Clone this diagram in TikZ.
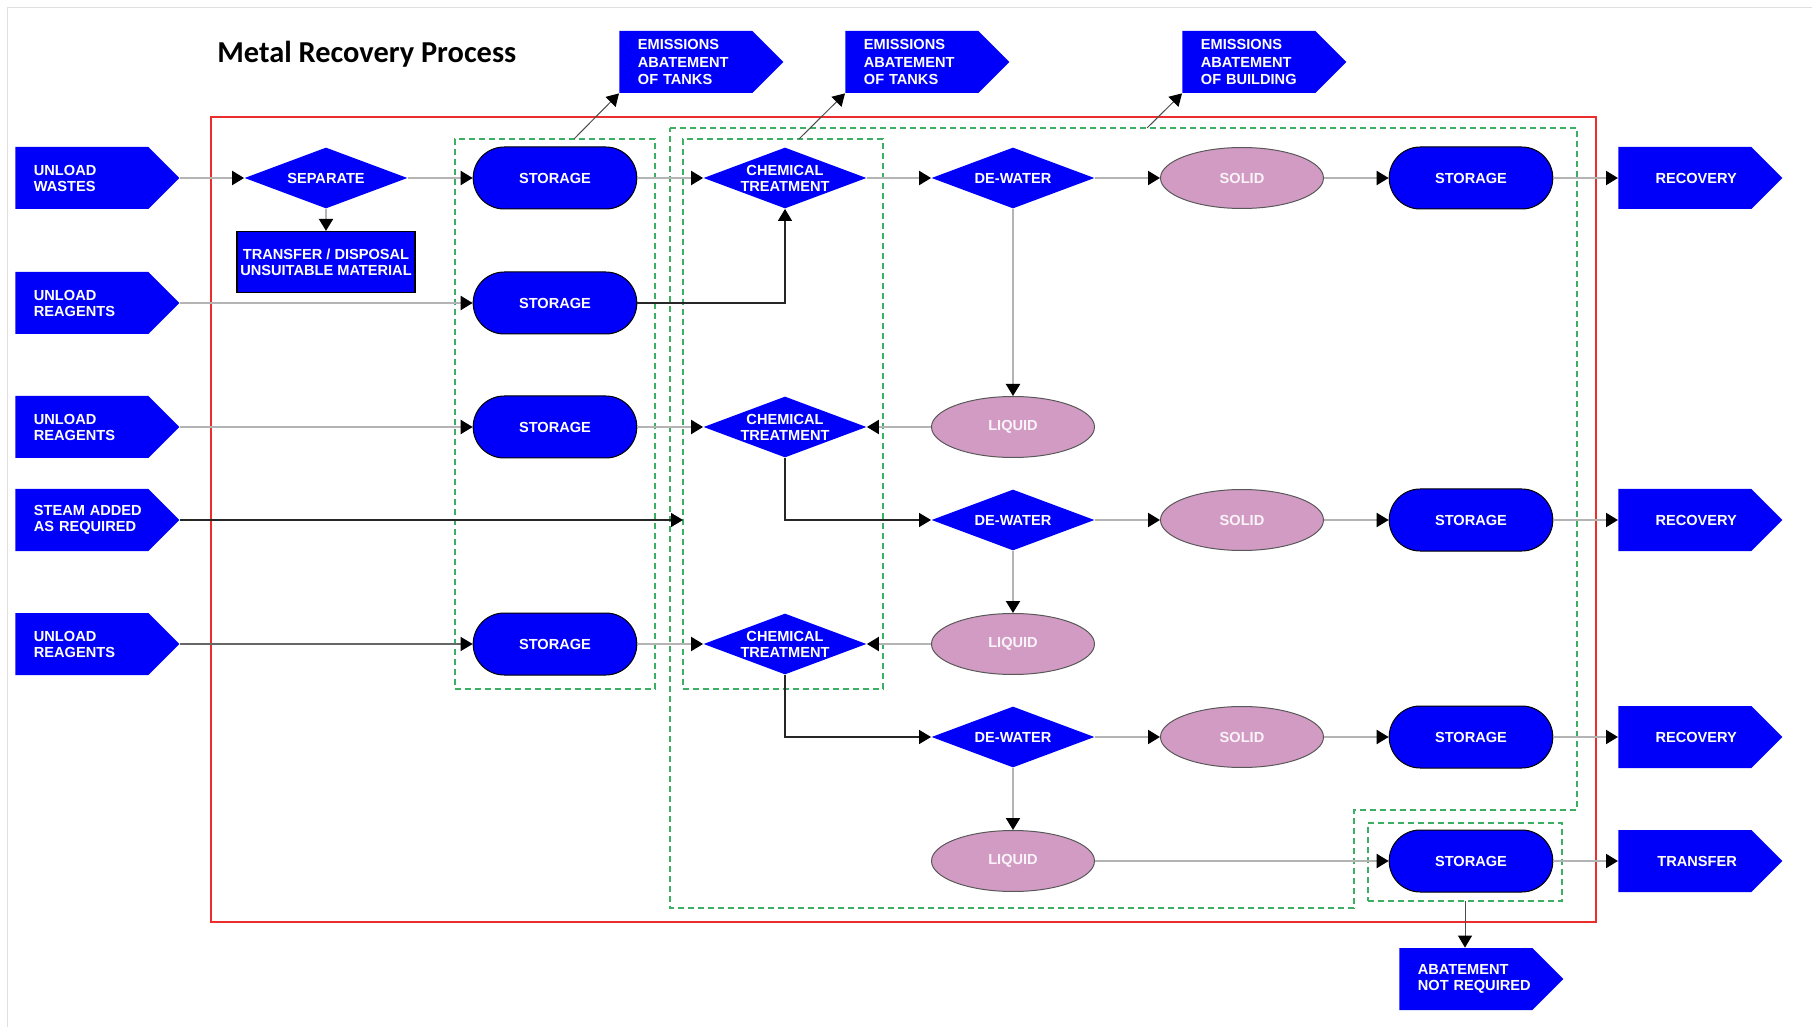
\documentclass[tikz,border=0pt]{standalone}
\usepackage{fontspec}
\setmainfont{Liberation Sans}
\newfontfamily\titlefont{Carlito}
\usetikzlibrary{shapes.geometric,shapes.misc,shapes.symbols,arrows.meta}

\definecolor{procblue}{RGB}{0,0,250}
\definecolor{phasepink}{RGB}{210,155,196}
\definecolor{flowgray}{RGB}{180,180,180}
\definecolor{grpgreen}{RGB}{60,175,100}
\definecolor{framered}{RGB}{235,45,45}

\tikzset{
  lbl/.style={font=\fontsize{7.3}{8}\selectfont\bfseries, text=white,
    execute at begin node={\hyphenpenalty=10000\relax}},
  flag/.style={lbl, signal, signal to=east, signal pointer angle=90, fill=procblue,
    minimum width=82pt, minimum height=31pt, anchor=west, text width=52pt, align=right},
  flagl/.style={flag, text width=48pt, align=left},
  vent flag/.style={flagl, font=\fontsize{7.3}{8.6}\selectfont\bfseries},
  proc/.style={lbl, diamond, fill=procblue, aspect=2.67, inner sep=0pt,
    minimum width=81.5pt, minimum height=30.5pt, align=center},
  store/.style={lbl, rounded rectangle, fill=procblue, draw=black, line width=0.5pt,
    minimum width=88.5pt, minimum height=31pt},
  phase/.style={lbl, ellipse, fill=phasepink, draw=black!65, line width=0.5pt,
    text=white!88!phasepink, minimum width=81.5pt, minimum height=30.5pt},
  dispose/.style={lbl, rectangle, fill=procblue, draw=black, line width=0.6pt,
    inner xsep=0pt, minimum width=89pt, minimum height=30.5pt, align=center},
  grp/.style={draw=grpgreen, dash pattern=on 3pt off 2pt, line width=0.6pt,
    outer sep=0pt},
  tip/.style={-{Triangle[length=6pt,width=7pt,color=black]}},
  flow/.style={tip, draw=flowgray, line width=1pt},
  link/.style={tip, draw=black!85, line width=0.7pt},
  vent/.style={tip, draw=black!70, line width=0.5pt}
}

\begin{document}
\begin{tikzpicture}[x=0.5pt,y=-0.5pt]
  \useasboundingbox (0,0) rectangle (1812,1027);
  \draw[black!12] (7,1027) -- (7,7) -- (1812,7);

  \node[font=\titlefont\bfseries\fontsize{15.2}{18}\selectfont, anchor=base west, inner sep=0pt] (title) at (217,63) {Metal Recovery Process};

  \draw[framered, line width=0.7pt] (211,117) rectangle (1596,922);
  \node[grp, minimum width=100pt, minimum height=275pt] (g1) at (555,414) {};
  \node[grp, minimum width=100pt, minimum height=275pt] (g2) at (783,414) {};
  \draw[grp] (670,128) -- (1577,128) -- (1577,810) -- (1354,810) -- (1354,908) -- (670,908) -- cycle;
  \coordinate (bldg) at (1147,128);
  \node[grp, minimum width=97pt, minimum height=39pt] (g5) at (1465,862) {};

  \node[flagl] (uw) at (15,178) {UNLOAD\\WASTES};
  \node[flagl] (ur1) at (15,303) {UNLOAD\\REAGENTS};
  \node[flagl] (ur2) at (15,427) {UNLOAD\\REAGENTS};
  \node[flagl] (steam) at (15,520) {STEAM~ADDED\\AS~REQUIRED};
  \node[flagl] (ur3) at (15,644) {UNLOAD\\REAGENTS};

  \node[vent flag] (em1) at (619,62) {EMISSIONS\\ABATEMENT\\OF~TANKS};
  \node[vent flag] (em2) at (845,62) {EMISSIONS\\ABATEMENT\\OF~TANKS};
  \node[vent flag] (em3) at (1182,62) {EMISSIONS\\ABATEMENT\\OF~BUILDING};

  \node[proc] (sep) at (326,178) {SEPARATE};
  \node[dispose] (xfer) at (326,262) {TRANSFER / DISPOSAL\\UNSUITABLE MATERIAL};

  \node[store] (st1) at (555,178) {STORAGE};
  \node[store] (st2) at (555,303) {STORAGE};
  \node[store] (st3) at (555,427) {STORAGE};
  \node[store] (st4) at (555,644) {STORAGE};

  \node[proc] (ct1) at (785,178) {CHEMICAL\\TREATMENT};
  \node[proc] (ct2) at (785,427) {CHEMICAL\\TREATMENT};
  \node[proc] (ct3) at (785,644) {CHEMICAL\\TREATMENT};

  \node[proc] (dw1) at (1013,178) {DE-WATER};
  \node[phase] (lq1) at (1013,427) {LIQUID};
  \node[proc] (dw2) at (1013,520) {DE-WATER};
  \node[phase] (lq2) at (1013,644) {LIQUID};
  \node[proc] (dw3) at (1013,737) {DE-WATER};
  \node[phase] (lq3) at (1013,861) {LIQUID};

  \node[phase] (so1) at (1242,178) {SOLID};
  \node[phase] (so2) at (1242,520) {SOLID};
  \node[phase] (so3) at (1242,737) {SOLID};

  \node[store] (sr1) at (1471,178) {STORAGE};
  \node[store] (sr2) at (1471,520) {STORAGE};
  \node[store] (sr3) at (1471,737) {STORAGE};
  \node[store] (sr4) at (1471,861) {STORAGE};

  \node[flag] (rec1) at (1618,178) {RECOVERY};
  \node[flag] (rec2) at (1618,520) {RECOVERY};
  \node[flag] (rec3) at (1618,737) {RECOVERY};
  \node[flag] (trf) at (1618,861) {TRANSFER};
  \node[flagl] (anr) at (1399,979) {ABATEMENT\\NOT~REQUIRED};

  \draw[flow] (uw.east) -- (sep.west);
  \draw[flow] (sep.south) -- (xfer.north);
  \draw[flow] (sep.east) -- (st1.west);
  \draw[flow] (st1.east) -- (ct1.west);
  \draw[flow] (ct1.east) -- (dw1.west);
  \draw[flow] (dw1.east) -- (so1.west);
  \draw[flow] (so1.east) -- (sr1.west);
  \draw[flow] (sr1.east) -- (rec1.west);
  \draw[flow] (dw1.south) -- (lq1.north);

  \draw[flow] (ur1.east) -- (st2.west);
  \draw[link] (st2.east) -| (ct1.south);

  \draw[flow] (ur2.east) -- (st3.west);
  \draw[flow] (st3.east) -- (ct2.west);
  \draw[flow] (lq1.west) -- (ct2.east);
  \draw[link] (ct2.south) |- (dw2.west);
  \draw[link] (steam.east) -- (steam.east -| g2.west);
  \draw[flow] (dw2.east) -- (so2.west);
  \draw[flow] (so2.east) -- (sr2.west);
  \draw[flow] (sr2.east) -- (rec2.west);
  \draw[flow] (dw2.south) -- (lq2.north);

  \draw[link, draw=black!60] (ur3.east) -- (st4.west);
  \draw[flow] (st4.east) -- (ct3.west);
  \draw[flow] (lq2.west) -- (ct3.east);
  \draw[link] (ct3.south) |- (dw3.west);
  \draw[flow] (dw3.east) -- (so3.west);
  \draw[flow] (so3.east) -- (sr3.west);
  \draw[flow] (sr3.east) -- (rec3.west);
  \draw[flow] (dw3.south) -- (lq3.north);

  \draw[flow] (lq3.east) -- (sr4.west);
  \draw[flow] (sr4.east) -- (trf.west);
  \draw[vent] (g5.south) -- (g5.south |- anr.north);

  \draw[vent] ([xshift=9.5pt]g1.north) -- (em1.west |- em1.south);
  \draw[vent] ([xshift=8pt]g2.north) -- (em2.west |- em2.south);
  \draw[vent] (bldg) -- (em3.west |- em3.south);
\end{tikzpicture}
\end{document}
